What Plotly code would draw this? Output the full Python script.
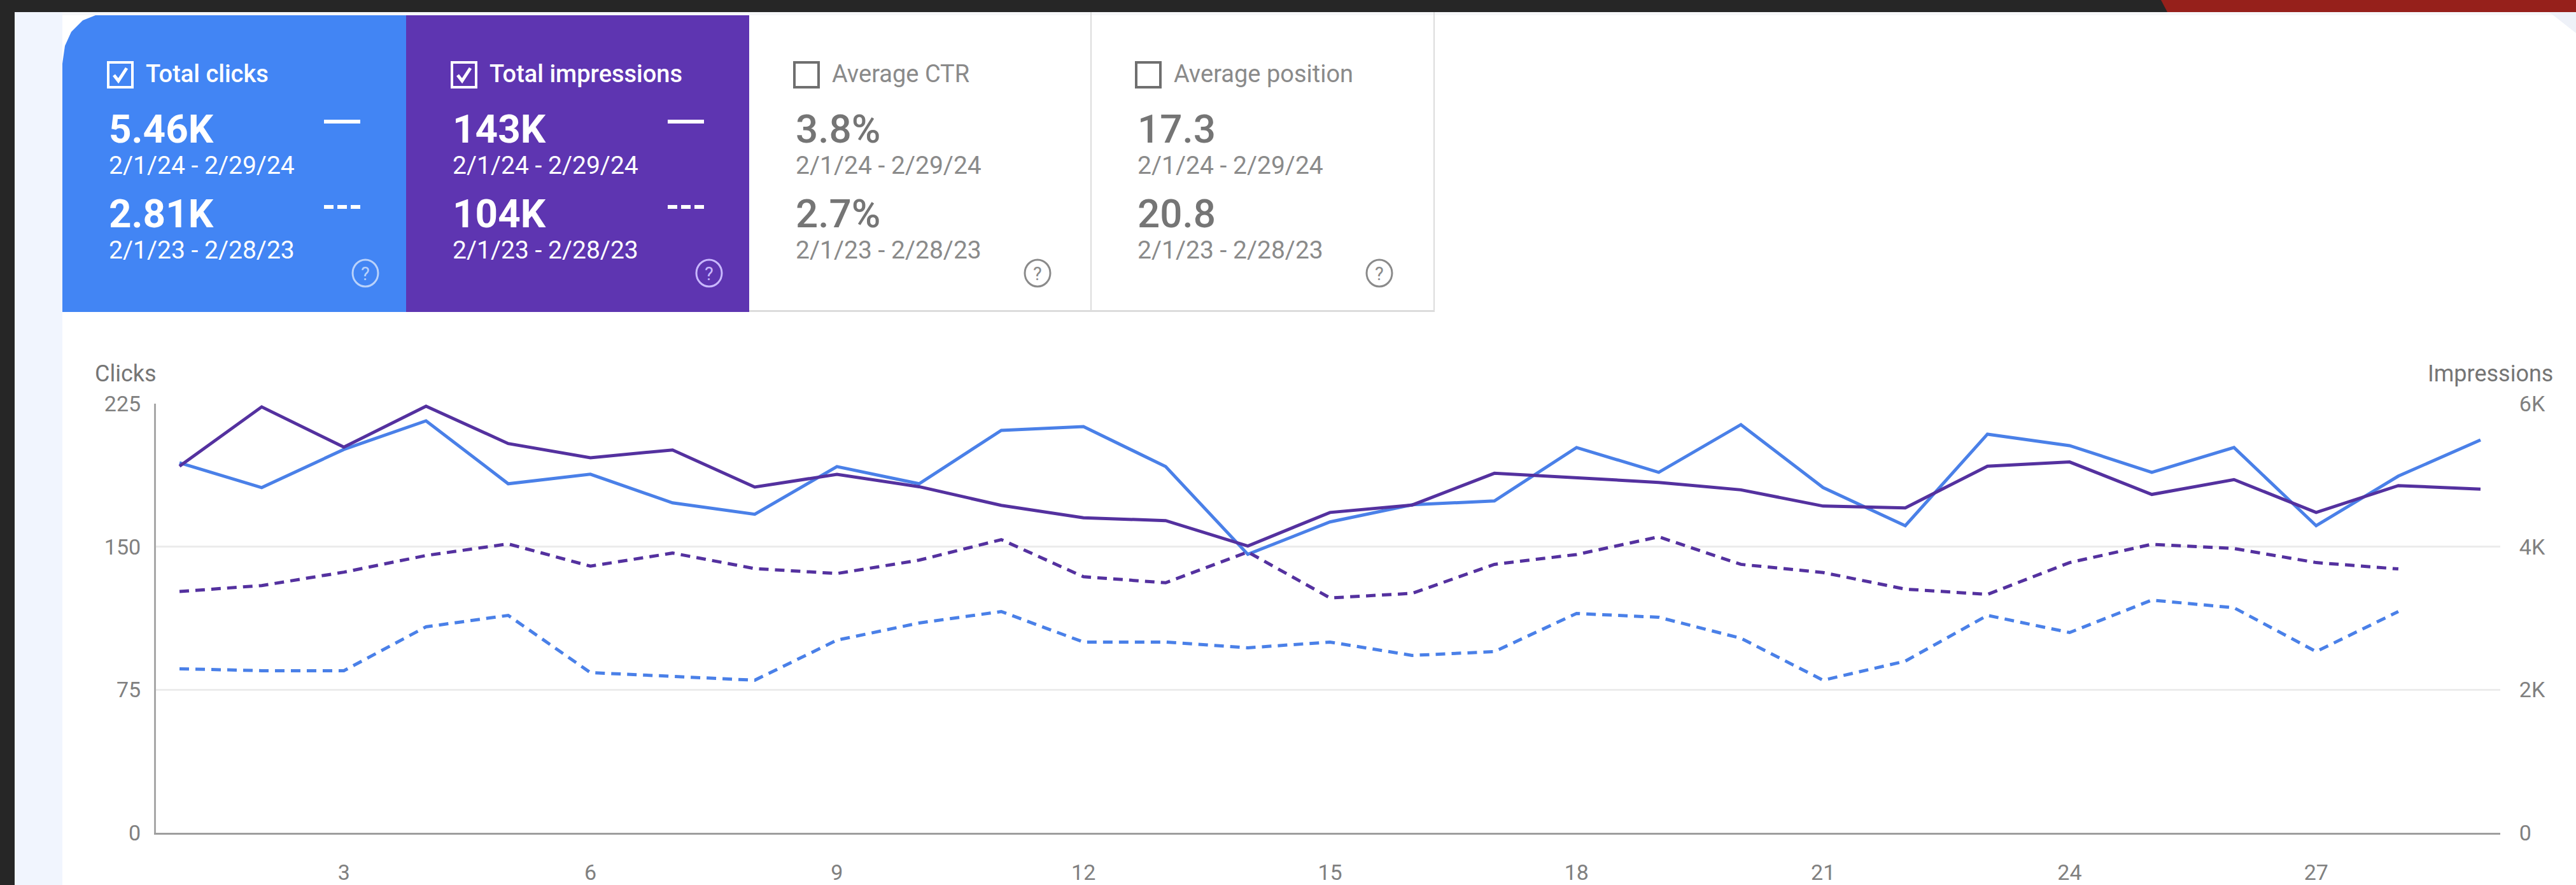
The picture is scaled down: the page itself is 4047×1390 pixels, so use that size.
import plotly.graph_objects as go

W, H = 4047, 1390
PL, PR, PT, PB = 245, 3928, 634, 1308

days = list(range(1, 30))
clicks_current = [194,181,201,216,183,188,173,167,192,183,211,213,192,146,163,172,174,202,189,214,181,161,209,203,189,202,161,187,206]
clicks_previous = [86,85,85,108,114,84,82,80,101,110,116,100,100,97,100,93,95,115,113,102,80,90,114,105,122,118,95,116]
impressions_current = [5126,5955,5393,5965,5442,5244,5353,4834,5012,4839,4578,4405,4365,4010,4479,4583,5027,4963,4899,4795,4568,4543,5126,5185,4731,4938,4479,4854,4805]
impressions_previous = [3373,3457,3644,3877,4039,3728,3911,3694,3625,3812,4099,3580,3496,3926,3284,3348,3753,3891,4138,3753,3639,3407,3333,3778,4034,3975,3778,3689]

x_ticks = [3,6,9,12,15,18,21,24,27]
clicks_ticks = [0,75,150,225]
impr_ticks = [0,2000,4000,6000]
impr_labels = ["0","2K","4K","6K"]

card_titles = ["Total clicks","Total impressions","Average CTR","Average position"]
card_current = ["5.46K","143K","3.8%","17.3"]
card_previous = ["2.81K","104K","2.7%","20.8"]
range_current = "2/1/24 - 2/29/24"
range_previous = "2/1/23 - 2/28/23"
card_left = [98,638,1177,1714]
card_right = [638,1177,1714,2253]
card_fill = ["#4285f4","#5e35b1",None,None]
card_checked = [True,True,False,False]

BLUE, PURPLE, GREY = "#4a80e8", "#54319f", "#757575"
FONT = "Roboto"

def px(x): return (x-PL)/(PR-PL)
def py(y): return (PB-y)/(PB-PT)

shapes, ann = [], []
def rect(x0,y0,x1,y1,fill=None,line=None,lw=0):
    shapes.append(dict(type="rect",xref="paper",yref="paper",x0=px(x0),x1=px(x1),y0=py(y0),y1=py(y1),
        fillcolor=fill or "rgba(0,0,0,0)",line=dict(color=line or "rgba(0,0,0,0)",width=lw),layer="below"))
def path(points,fill=None,line=None,lw=0):
    d = "M "+" L ".join(f"{px(a):.6f},{py(b):.6f}" for a,b in points)
    if fill: d += " Z"
    shapes.append(dict(type="path",xref="paper",yref="paper",path=d,
        fillcolor=fill or "rgba(0,0,0,0)",line=dict(color=line or "rgba(0,0,0,0)",width=lw),layer="below"))
def text(x,y,s,size,color,anchor="left",weight=None):
    ann.append(dict(xref="paper",yref="paper",x=px(x),y=py(y),text=s,showarrow=False,xanchor=anchor,yanchor="middle",
        font=dict(family=FONT,size=size,color=color,weight=weight or 400)))

# page chrome
rect(0,0,W,H,"#ffffff")
rect(23,19,98,H,"#f1f5fe")
rect(98,19,W,24,"#f6f7f9")
path([(4005,19),(4047,19),(4047,52)],"#eef1f8")
rect(0,0,W,19,"#262626")
rect(0,0,23,H,"#262626")
path([(3395,0),(4047,0),(4047,19),(3405,19)],"#96201b")

# metric cards
for i,(l,r) in enumerate(zip(card_left,card_right)):
    fill = card_fill[i]
    fg = "#ffffff" if fill else GREY
    if fill and i == 0:
        # rounded top-left corner
        pts = [(98,100),(102,72),(112,50),(130,32),(150,24),(r,24),(r,490),(l,490)]
        path(pts,fill)
    elif fill:
        rect(l,24,r,490,fill)
    else:
        rect(r-1,19,r+1,490,"#dcdcdc")
        rect(l,487,r,490,"#dcdcdc")
    tx = l+71
    # checkbox
    bx = l+72 if fill else l+71
    bw = 38
    rect(bx,98,bx+bw,137,None,"#ffffff" if fill else "#6f6f6f",4)
    if card_checked[i]:
        path([(bx+9,118),(bx+16,127),(bx+29,107)],None,"#ffffff",5)
    text(bx+57,116,card_titles[i],38,fg if fill else "#8a8a8a",weight=500 if fill else 400)
    text(tx,202,card_current[i],62,fg,weight=700 if fill else 500)
    text(tx,260,range_current,39,"#ffffff" if fill else "#8a8a8a")
    text(tx,336,card_previous[i],62,fg,weight=700 if fill else 500)
    text(tx,393,range_previous,39,"#ffffff" if fill else "#8a8a8a")
    if fill:
        rect(l+411,188,l+468,194,"#ffffff")
        for k in range(3):
            rect(l+411+k*21,322,l+426+k*21,328,"#ffffff")
    # help icon
    cx, cy = (l+476, 429) if fill else (l+453, 429)
    c = "#c9b8ff" if i==1 else ("#b9d2fb" if fill else "#8a8a8a")
    shapes.append(dict(type="circle",xref="paper",yref="paper",x0=px(cx-20),x1=px(cx+20),y0=py(cy-21),y1=py(cy+21),
        line=dict(color=c,width=3),layer="below"))
    text(cx,430,"?",29,c,"center")

text(147,587,"Clicks",36,"#757575")
text(4013,587,"Impressions",36,"#757575","right")

fig = go.Figure()
dash = "15px,10px"
fig.add_trace(go.Scatter(x=days,y=clicks_previous,mode="lines",line=dict(color=BLUE,width=5,dash=dash),name="Clicks previous"))
fig.add_trace(go.Scatter(x=days,y=impressions_previous,mode="lines",yaxis="y2",line=dict(color=PURPLE,width=5,dash=dash),name="Impressions previous"))
fig.add_trace(go.Scatter(x=days,y=impressions_current,mode="lines",yaxis="y2",line=dict(color=PURPLE,width=5),name="Impressions current"))
fig.add_trace(go.Scatter(x=days,y=clicks_current,mode="lines",line=dict(color=BLUE,width=5),name="Clicks current"))

tick = dict(family=FONT,size=34,color="#808080")
fig.update_layout(
    width=W,height=H,autosize=False,showlegend=False,
    paper_bgcolor="#ffffff",plot_bgcolor="rgba(0,0,0,0)",
    margin=dict(l=PL,r=W-PR,t=PT,b=H-PB,pad=0,autoexpand=False),
    font=dict(family=FONT),
    shapes=shapes,annotations=ann,
    xaxis=dict(range=[1-37/129.1,29+31/129.1],tickmode="array",tickvals=x_ticks,showgrid=False,zeroline=False,
        showline=True,linecolor="#9e9e9e",linewidth=3,ticks="outside",ticklen=30,tickcolor="rgba(0,0,0,0)",tickfont=tick),
    yaxis=dict(range=[0,225],tickmode="array",tickvals=clicks_ticks,showgrid=True,gridcolor="#ececec",gridwidth=3,zeroline=False,
        showline=True,linecolor="#a8a8a8",linewidth=3,ticks="outside",ticklen=14,tickcolor="rgba(0,0,0,0)",tickfont=tick),
    yaxis2=dict(range=[0,6000],overlaying="y",side="right",tickmode="array",tickvals=impr_ticks,ticktext=impr_labels,
        showgrid=False,zeroline=False,showline=False,ticks="outside",ticklen=22,tickcolor="rgba(0,0,0,0)",tickfont=tick),
)
fig.write_html("out.html", config=dict(displayModeBar=False), post_script="document.body.style.margin='0';document.body.style.overflow='hidden';")
